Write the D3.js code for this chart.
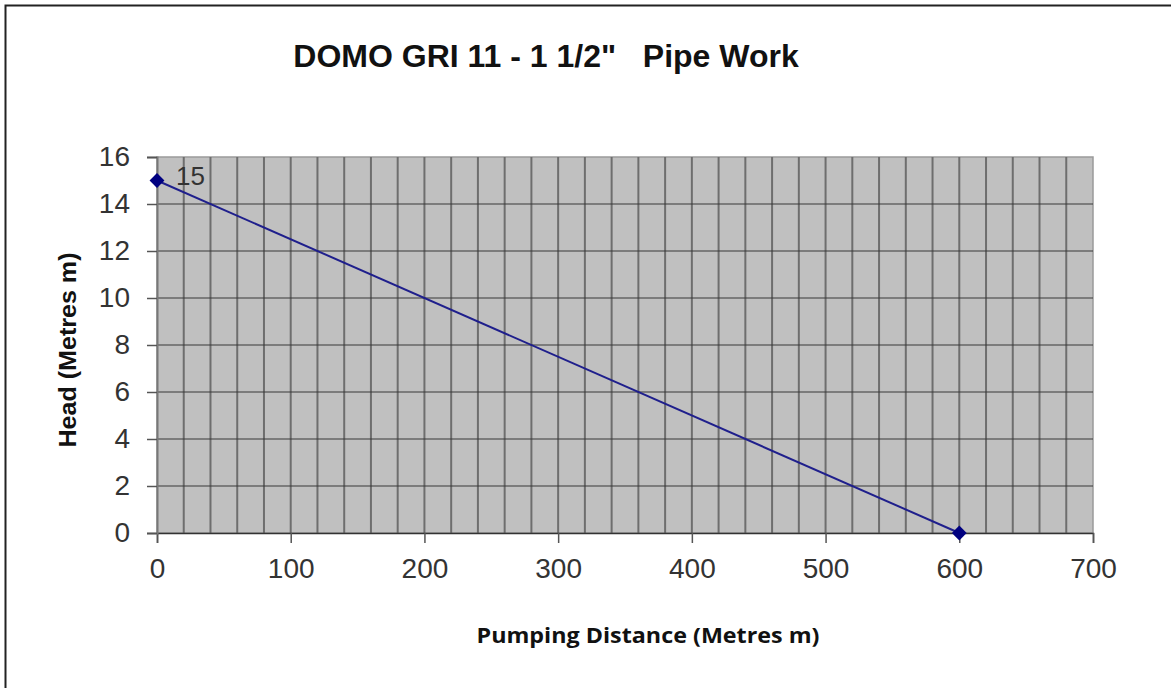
<!DOCTYPE html>
<meta charset="utf-8">
<script src="https://d3js.org/d3.v7.min.js" charset="utf-8"></script>
<style>
  body { margin: 0; background: #fff; }
  text { font-family: "Liberation Sans", Arial, sans-serif; }
</style>
<body>
<div id="draw"></div>
</body>
<script>

  // data
  var distance = [0, 600];
  var head = [15, 0];
  var xTicks = [0, 100, 200, 300, 400, 500, 600, 700];
  var yTicks = [0, 2, 4, 6, 8, 10, 12, 14, 16];
  var title = 'DOMO GRI 11 - 1 1/2"   Pipe Work';
  var xTitle = "Pumping Distance (Metres m)";
  var yTitle = "Head (Metres m)";

  var width = 1171;
  var height = 688;
  var plot = {left: 157, top: 157, right: 1093, bottom: 533};

  var svg = d3.select("#draw")
    .append("svg")
    .attr("width", width)
    .attr("height", height);

  // outer frame (only top and left edges show)
  svg.append("path")
    .attr("d", "M5.5,688 L5.5,5.5 L1171,5.5")
    .attr("fill", "none")
    .attr("stroke", "#222")
    .attr("stroke-width", 2);

  var x = d3.scaleLinear().domain([0, 700]).range([plot.left, plot.right]);
  var y = d3.scaleLinear().domain([0, 16]).range([plot.bottom, plot.top]);

  // plot background
  svg.append("rect")
    .attr("x", x(0)).attr("y", y(16))
    .attr("width", x(700) - x(0))
    .attr("height", y(0) - y(16))
    .attr("fill", "#c0c0c0")
    .attr("stroke", "#9a9a9a")
    .attr("stroke-width", 1.5);

  // vertical grid, every 20 m
  svg.append("g").selectAll("line")
    .data(d3.range(20, 700, 20))
    .enter().append("line")
    .attr("x1", function(d){return x(d);})
    .attr("x2", function(d){return x(d);})
    .attr("y1", y(16)).attr("y2", y(0))
    .attr("stroke", "#6e6e6e")
    .attr("stroke-width", 2);

  // horizontal grid
  svg.append("g").selectAll("line")
    .data(yTicks.slice(1, -1))
    .enter().append("line")
    .attr("x1", x(0)).attr("x2", x(700))
    .attr("y1", function(d){return y(d);})
    .attr("y2", function(d){return y(d);})
    .attr("stroke", "#383838")
    .attr("stroke-width", 1.2);

  // axes
  var xAxis = svg.append("g")
    .attr("transform", "translate(0," + y(0) + ")")
    .call(d3.axisBottom(x).tickValues(xTicks).tickSize(10).tickPadding(13));
  var yAxis = svg.append("g")
    .attr("transform", "translate(" + x(0) + ",0)")
    .call(d3.axisLeft(y).tickValues(yTicks).tickSize(10).tickPadding(17));

  xAxis.select(".domain").attr("stroke", "#333").attr("stroke-width", 1.5);
  yAxis.select(".domain").attr("stroke", "#777").attr("stroke-width", 2);
  svg.selectAll(".tick line").attr("stroke", "#555").attr("stroke-width", 1.5);
  svg.selectAll(".tick text")
    .attr("fill", "#333")
    .style("font-size", "28px")
    .style("font-family", "'Liberation Sans', Arial, sans-serif");
  xAxis.selectAll(".tick text").attr("dy", "0.8em");

  // series line
  var pts = distance.map(function(d, i){return {x: d, y: head[i]};});
  svg.append("path")
    .datum(pts)
    .attr("d", d3.line().x(function(d){return x(d.x);}).y(function(d){return y(d.y);}))
    .attr("fill", "none")
    .attr("stroke", "#1f1f8c")
    .attr("stroke-width", 2);

  svg.append("g").selectAll("path")
    .data(pts)
    .enter().append("path")
    .attr("d", d3.symbol().type(d3.symbolDiamond2).size(140))
    .attr("transform", function(d){return "translate(" + x(d.x) + "," + y(d.y) + ")";})
    .attr("fill", "#000080");

  // data label on first point
  svg.append("text")
    .attr("x", x(pts[0].x) + 19)
    .attr("y", y(pts[0].y) + 4)
    .attr("fill", "#333")
    .style("font-size", "26px")
    .text(pts[0].y);

  // titles
  svg.append("text")
    .attr("x", 546).attr("y", 67)
    .attr("text-anchor", "middle")
    .style("font-size", "32px")
    .style("font-weight", "bold")
    .style("white-space", "pre")
    .attr("fill", "#111")
    .text(title);

  svg.append("text")
    .attr("x", 648).attr("y", 643)
    .attr("text-anchor", "middle")
    .style("font-family", "'Open Sans', sans-serif")
    .style("font-size", "21px")
    .style("font-weight", "bold")
    .attr("textLength", 343)
    .attr("lengthAdjust", "spacingAndGlyphs")
    .attr("fill", "#111")
    .text(xTitle);

  svg.append("text")
    .attr("transform", "translate(76,350) rotate(-90)")
    .attr("text-anchor", "middle")
    .style("font-size", "23px")
    .style("font-weight", "bold")
    .attr("textLength", 195)
    .attr("lengthAdjust", "spacingAndGlyphs")
    .attr("fill", "#111")
    .text(yTitle);

</script>
</html>
